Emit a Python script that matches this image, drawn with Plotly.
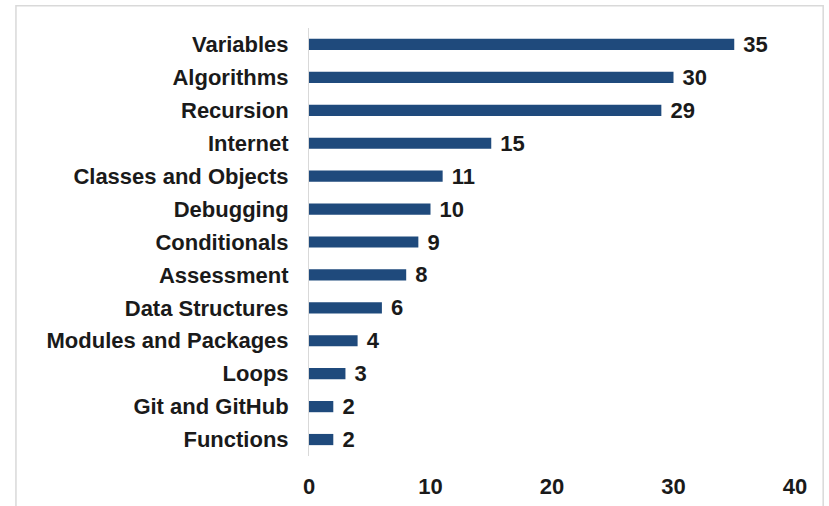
import plotly.graph_objects as go

# Topic counts, listed top to bottom
topics = [
    "Variables", "Algorithms", "Recursion", "Internet", "Classes and Objects",
    "Debugging", "Conditionals", "Assessment", "Data Structures",
    "Modules and Packages", "Loops", "Git and GitHub", "Functions",
]
counts = [35, 30, 29, 15, 11, 10, 9, 8, 6, 4, 3, 2, 2]
x_ticks = [0, 10, 20, 30, 40]

BAR_COLOR = "#1F4A7C"
FONT = "Liberation Sans, Arial, sans-serif"
TEXT_COLOR = "#1a1a1a"
label_font = dict(family=FONT, size=22, color=TEXT_COLOR, weight=700)

fig = go.Figure(
    go.Bar(
        x=counts,
        y=topics,
        orientation="h",
        marker=dict(color=BAR_COLOR, line=dict(width=0)),
        width=0.34,
        text=counts,
        texttemplate=" %{x}",
        textposition="outside",
        constraintext="none",
        textfont=label_font,
        cliponaxis=False,
    )
)

fig.update_layout(
    width=829,
    height=506,
    margin=dict(l=309, r=34, t=28, b=50, autoexpand=False),
    paper_bgcolor="white",
    plot_bgcolor="white",
    showlegend=False,
    font=label_font,
    uniformtext=dict(mode=False),
    xaxis=dict(
        range=[0, 40],
        tickvals=x_ticks,
        ticktext=[str(v) for v in x_ticks],
        showgrid=False,
        zeroline=False,
        showline=False,
        automargin=False,
        ticks="outside",
        ticklen=11,
        tickcolor="rgba(0,0,0,0)",
        tickfont=label_font,
    ),
    yaxis=dict(
        categoryorder="array",
        categoryarray=topics[::-1],
        showgrid=False,
        zeroline=False,
        showline=True,
        automargin=False,
        linecolor="#d9d9d9",
        linewidth=1,
        ticks="outside",
        ticklen=15,
        tickcolor="rgba(0,0,0,0)",
        tickfont=label_font,
    ),
    shapes=[
        dict(
            type="rect",
            xref="paper",
            yref="paper",
            x0=-0.603,
            x1=1.058,
            y0=-0.2,
            y1=1.052,
            line=dict(color="#d9d9d9", width=1.5),
            fillcolor="rgba(0,0,0,0)",
            layer="below",
        )
    ],
)

fig.write_html("out.html")
